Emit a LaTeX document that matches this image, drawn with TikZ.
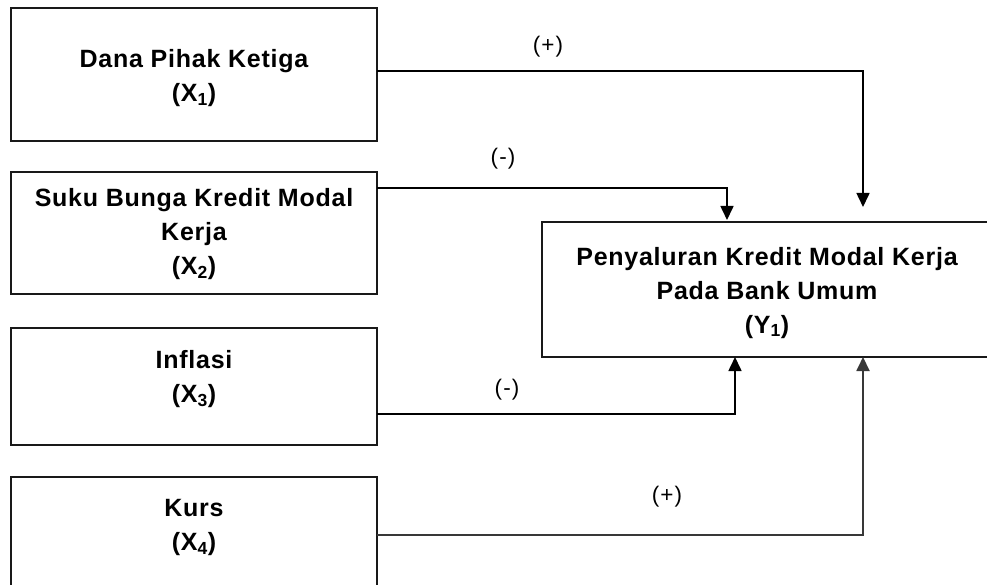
\documentclass[tikz,border=0pt]{standalone}
\usepackage{fontspec}
\setmainfont{Liberation Sans}[LetterSpace=3]
\newfontfamily\signfont{Liberation Sans}[LetterSpace=5]
\usetikzlibrary{arrows.meta,calc}
\tikzset{
  box/.style={draw=black!90, line width=2pt, rectangle, inner sep=0pt, outer sep=0pt},
  boxtext/.style={align=center, inner sep=0pt, font=\fontsize{25}{34}\selectfont\bfseries},
  sign/.style={inner sep=0pt, font=\signfont\fontsize{22.5}{26}\selectfont},
  conn/.style={line width=1.6pt, draw=black, -{Triangle[length=14pt,width=13pt]}},
}
\begin{document}
\begin{tikzpicture}[x=1pt, y=-1pt]
\useasboundingbox (0,0) rectangle (987,585);
\clip (0,0) rectangle (987,585);
% boxes
\node[box, minimum width=366pt, minimum height=133pt] (x1) at (194,75) {};
\node[box, minimum width=366pt, minimum height=122pt] (x2) at (194,233) {};
\node[box, minimum width=366pt, minimum height=117pt] (x3) at (194,386.5) {};
\node[box, minimum width=366pt, minimum height=140pt] (x4) at (194,547) {};
\node[box, minimum width=450pt, minimum height=135pt] (y) at (767,289.5) {};
% texts
\node[boxtext] (tx1) at (194,78.4) {Dana Pihak Ketiga\\(X\textsubscript{1})};
\node[boxtext] (tx2) at (194,234) {Suku Bunga Kredit Modal\\Kerja\\(X\textsubscript{2})};
\node[boxtext] (tx3) at (194,379) {Inflasi\\(X\textsubscript{3})};
\node[boxtext] (tx4) at (194,527.3) {Kurs\\(X\textsubscript{4})};
\node[boxtext] (ty) at (767,292.6) {Penyaluran Kredit Modal Kerja\\Pada Bank Umum\\(Y\textsubscript{1})};
% connectors
\coordinate (t1) at (863,207);
\draw[conn] (x1.east |- 0,71) -| (t1);
\draw[conn, shorten >=2pt] (x2.east |- 0,188) -| (y.north -| 727,0);
\draw[conn] (x3.east |- 0,414) -| (y.south -| 735,0);
\draw[conn, draw=black!78, line width=1.9pt] (x4.east |- 0,535) -| (y.south -| 863,0);
% signs
\node[sign] (s1) at (548,47) {(+)};
\node[sign] (s2) at (503,159) {(-)};
\node[sign] (s3) at (507,390) {(-)};
\node[sign] (s4) at (667,497) {(+)};
\end{tikzpicture}
\end{document}
